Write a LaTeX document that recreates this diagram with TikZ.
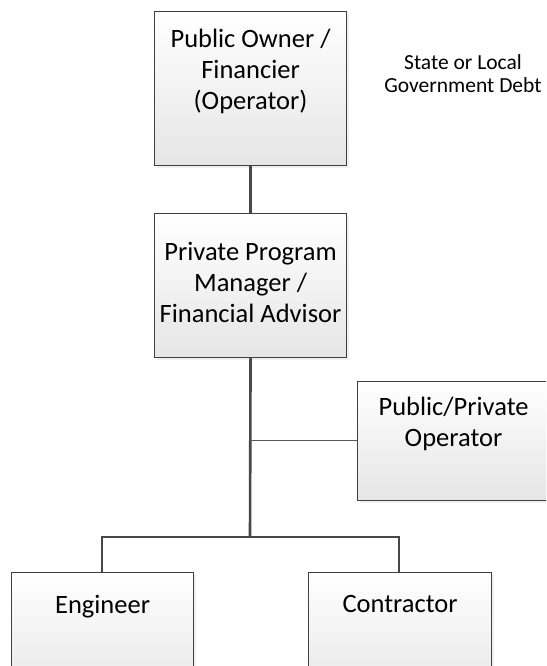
\documentclass[tikz,border=0pt]{standalone}
\usepackage{fontspec}
\setmainfont{Carlito}
\usetikzlibrary{shadows}
\begin{document}
\begin{tikzpicture}[x=1pt,y=-1pt,
  box/.style={draw=black!75, line width=1.1pt, top color=white, bottom color=black!10,
    shading angle=0, rectangle, inner sep=0pt, anchor=north west,
    drop shadow={shadow xshift=2.5pt, shadow yshift=-2.5pt, opacity=0.15, fill=black!40}},
  boxtext/.style={align=center, font=\fontsize{26.5}{31}\selectfont, text=black, anchor=north, inner sep=0pt},
  small/.style={align=center, font=\fontsize{21.5}{23.5}\selectfont, text=black, anchor=north, inner sep=0pt},
  thick line/.style={draw=black!72, line width=2.6pt},
  thin line/.style={draw=black!65, line width=1pt}]
\useasboundingbox (0,0) rectangle (546,666);
\begin{scope}
\clip (0,0) rectangle (546,666);
\node[box, minimum width=192pt, minimum height=154pt] (owner) at (154,11) {};
\node[box, minimum width=192pt, minimum height=144pt] (pm) at (154,213) {};
\node[box, minimum width=192pt, minimum height=119pt] (op) at (357,381) {};
\node[box, minimum width=182pt, minimum height=130pt] (eng) at (11,572) {};
\node[box, minimum width=183pt, minimum height=130pt] (con) at (308,572) {};

\node[boxtext] (ownert) at ([yshift=-18pt]owner.north) {Public Owner /\\Financier\\(Operator)};
\node[boxtext] (pmt) at ([yshift=-29pt]pm.north) {Private Program\\Manager /\\Financial Advisor};
\node[boxtext] (opt) at ([yshift=-16pt]op.north) {Public/Private\\Operator};
\node[boxtext] (engt) at ([yshift=-23pt]eng.north) {Engineer};
\node[boxtext] (cont) at ([yshift=-23pt]con.north) {Contractor};

\node[small] (debt) at (463,54) {State or Local\\Government Debt};

\coordinate (j1) at (250,440);
\coordinate (j2) at (250,537);
\coordinate (jl) at (102,537);
\coordinate (jr) at (399,537);

\draw[thick line] (owner.south) -- (pm.north);
\draw[thick line] (pm.south) -- (j2);
\draw[thin line] (j1) -- (op.west |- j1);
\draw[thick line, line cap=rect] (jl) -- (jr);
\draw[thick line] (jl) -- (eng.north -| jl);
\draw[thick line] (jr) -- (con.north -| jr);
\end{scope}
\end{tikzpicture}
\end{document}
